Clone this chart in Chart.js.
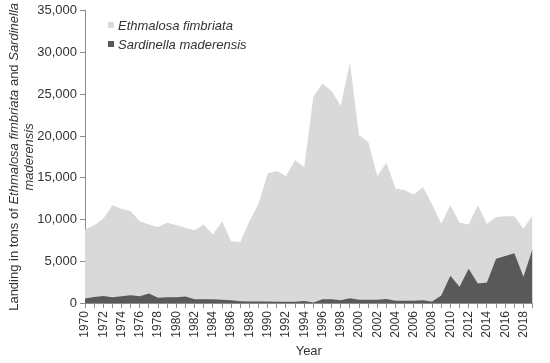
<!DOCTYPE html>
<html>
<head>
<meta charset="utf-8">
<script src="https://cdn.jsdelivr.net/npm/chart.js@4/dist/chart.umd.min.js"></script>
<style>
  html, body { margin: 0; padding: 0; background: #fff; }
  #wrap { width: 550px; height: 363px; }
</style>
</head>
<body>
<div id="wrap"><canvas id="chartLanding"></canvas></div>
<script>
const years = [];
for (let y = 1970; y <= 2019; y++) years.push(String(y));

const ethmalosa = [
    8800, 9300, 10100, 11700, 11300, 11000, 9800, 9400, 9100, 9600,
    9300, 9000, 8700, 9400, 8200, 9800, 7400, 7300, 9800, 11900,
    15500, 15800, 15200, 17100, 16300, 24700, 26300, 25400, 23600, 28800,
    20100, 19300, 15200, 16800, 13700, 13500, 13000, 13900, 11800, 9500,
    11700, 9600, 9400, 11700, 9500, 10300, 10400, 10400, 8900, 10500
];
const sardinella = [
    550, 720, 850, 700, 820, 930, 800, 1150, 620, 680,
    680, 780, 440, 460, 450, 380, 320, 220, 180, 180,
    180, 160, 160, 160, 240, 60, 440, 440, 320, 560,
    400, 400, 400, 480, 280, 280, 280, 320, 180, 900,
    3260, 1950, 4100, 2350, 2450, 5300, 5620, 5950, 3140, 6500
];
const yTicks = [0, 5000, 10000, 15000, 20000, 25000, 30000, 35000];

const fontFamily = "'Liberation Sans', Arial, sans-serif";
const textColor = "#333333";
const axisColor = "#8c8c8c";

// legend and y title with italic species names
const customText = {
    id: "customText",
    afterDraw(chart) {
        const ctx = chart.ctx;
        ctx.save();
        ctx.fillStyle = textColor;
        ctx.textBaseline = "alphabetic";

        // y axis title, two rotated lines
        const lines = [
            [["Landing in tons of ", false], ["Ethmalosa fimbriata", true], [" and ", false], ["Sardinella", true]],
            [["maderensis", true]]
        ];
        const cy = (chart.chartArea.top + chart.chartArea.bottom) / 2;
        const baselines = [18, 33];
        lines.forEach((parts, i) => {
            ctx.save();
            ctx.translate(baselines[i], cy);
            ctx.rotate(-Math.PI / 2);
            let total = 0;
            parts.forEach(p => {
                ctx.font = (p[1] ? "italic " : "") + "13px " + fontFamily;
                total += ctx.measureText(p[0]).width;
            });
            let x = -total / 2;
            parts.forEach(p => {
                ctx.font = (p[1] ? "italic " : "") + "13px " + fontFamily;
                ctx.textAlign = "left";
                ctx.fillText(p[0], x, 0);
                x += ctx.measureText(p[0]).width;
            });
            ctx.restore();
        });

        // legend
        ctx.font = "italic 13px " + fontFamily;
        ctx.textBaseline = "middle";
        ctx.textAlign = "left";
        chart.data.datasets.forEach((ds, i) => {
            const y = 25 + i * 19;
            ctx.fillStyle = ds.backgroundColor;
            ctx.fillRect(108, y - 3, 6, 6);
            ctx.fillStyle = textColor;
            ctx.fillText(ds.label, 118, y + 1);
        });
        ctx.restore();
    }
};

const ctx = document.getElementById("chartLanding").getContext("2d");
new Chart(ctx, {
    type: "line",
    data: {
        labels: years,
        datasets: [
            {
                label: "Ethmalosa fimbriata",
                data: ethmalosa,
                backgroundColor: "#d9d9d9",
                borderWidth: 0,
                pointRadius: 0,
                fill: "origin",
                order: 1
            },
            {
                label: "Sardinella maderensis",
                data: sardinella,
                backgroundColor: "#595959",
                borderWidth: 0,
                pointRadius: 0,
                fill: "origin",
                order: 0
            }
        ]
    },
    options: {
        responsive: true,
        maintainAspectRatio: false,
        animation: false,
        layout: { padding: { top: 10, right: 4, bottom: 0, left: 0 } },
        plugins: {
            legend: { display: false },
            tooltip: { enabled: false }
        },
        scales: {
            x: {
                type: "category",
                offset: false,
                afterFit: scale => { scale.height = 60; },
                border: { color: axisColor },
                grid: { drawOnChartArea: false, tickLength: 5, color: axisColor },
                ticks: {
                    autoSkip: false,
                    maxRotation: 90,
                    minRotation: 90,
                    padding: 3,
                    color: textColor,
                    font: { family: fontFamily, size: 12 },
                    callback: (val, i) => (i % 2 === 0 ? years[i] : "")
                },
                title: {
                    display: true,
                    text: "Year",
                    color: textColor,
                    font: { family: fontFamily, size: 13 },
                    padding: { top: 0, bottom: 4 }
                }
            },
            y: {
                min: yTicks[0],
                max: yTicks[yTicks.length - 1],
                afterFit: scale => { scale.width = 85; },
                afterBuildTicks: scale => { scale.ticks = yTicks.map(v => ({ value: v })); },
                border: { color: axisColor },
                grid: { drawOnChartArea: false, tickLength: 5, color: axisColor },
                ticks: {
                    padding: 3,
                    color: textColor,
                    font: { family: fontFamily, size: 13 },
                    callback: v => v.toLocaleString("en-US")
                }
            }
        }
    },
    plugins: [customText]
});
</script>
</body>
</html>
